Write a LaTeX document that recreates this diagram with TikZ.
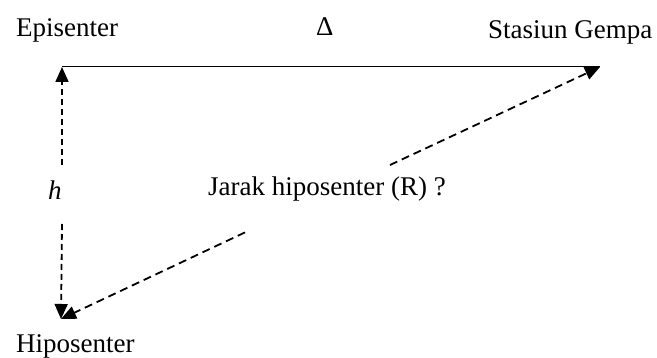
\documentclass[tikz,border=0pt]{standalone}
\usepackage{fontspec}
\setmainfont{Liberation Serif}
\usetikzlibrary{arrows.meta}
\begin{document}
\begin{tikzpicture}[x=1pt,y=-1pt,
  lbl/.style={inner sep=0pt,anchor=base west,font=\fontsize{27}{32}\selectfont},
  head/.style={-{Triangle[length=15pt,width=13pt]}},
  vdash/.style={line width=1.8pt,dash pattern=on 6pt off 4pt},
  ddash/.style={line width=1.8pt,dash pattern=on 8pt off 5pt},
  baseline/.style={line width=1pt}]
\useasboundingbox (0,0) rectangle (657,358);

% end points of the triangle
\coordinate (epi) at (62,67);
\coordinate (sta) at (600,67);
\coordinate (hyp) at (61,319);

% gaps left for the labels
\coordinate (vgapA) at (62,165);
\coordinate (vgapB) at (62,224);
\coordinate (dgapA) at (245,232.4);
\coordinate (dgapB) at (390,165);

% labels
\node[lbl] (lepi) at (16,37) {Episenter};
\node[lbl] (ldelta) at (316,36) {Δ};
\node[lbl] (lsta) at (488,39) {Stasiun Gempa};
\node[lbl] (lhyp) at (16,353) {Hiposenter};
\node[lbl] (lh) at (48,200) {\itshape h};
\node[lbl] (lr) at (208,196) {Jarak hiposenter (R) ?};

% surface line from epicentre to station
\draw[baseline] (epi) -- (sta);

% depth h
\draw[vdash,head] (vgapA) -- (epi);
\draw[vdash,head] (vgapB) -- (hyp);

% hypocentral distance R
\draw[ddash,head] (dgapA) -- (hyp);
\draw[ddash,head] (dgapB) -- (sta);
\end{tikzpicture}
\end{document}
